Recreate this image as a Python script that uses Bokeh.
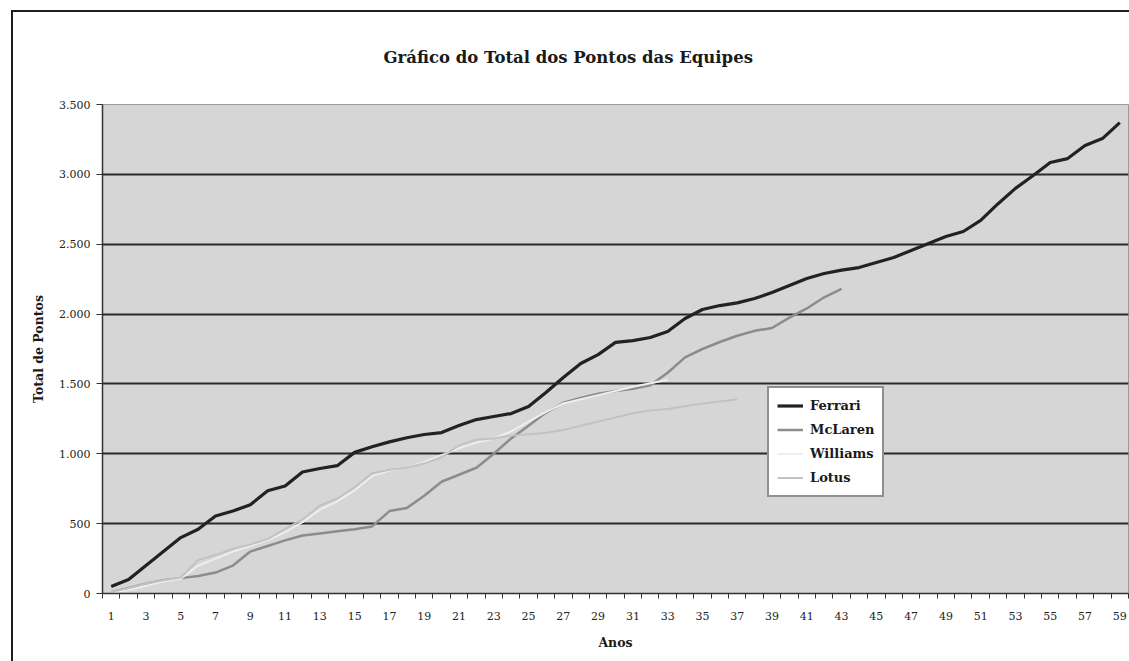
from bokeh.plotting import figure
from bokeh.models import Range1d, FixedTicker, Legend, LegendItem
from bokeh.embed import file_html
from bokeh.resources import INLINE

anos = list(range(1, 60))
ferrari = [50, 100, 200, 300, 400, 460, 555, 590, 635, 735,
           770, 870, 895, 915, 1010, 1050, 1085, 1115, 1138, 1152,
           1202, 1245, 1267, 1288, 1338, 1439, 1546, 1646, 1710, 1797,
           1810, 1832, 1875, 1968, 2033, 2061, 2080, 2111, 2154, 2204,
           2254, 2290, 2315, 2333, 2369, 2405, 2455, 2505, 2555, 2591,
           2670, 2790, 2900, 2990, 3085, 3113, 3206, 3256, 3370]
mclaren = [10, 40, 70, 95, 110, 125, 150, 200, 300, 340,
           380, 415, 430, 445, 460, 480, 590, 612, 700, 800,
           850, 900, 1000, 1110, 1200, 1295, 1365, 1400, 1430, 1450,
           1465, 1490, 1580, 1690, 1750, 1800, 1845, 1880, 1900, 1975,
           2040, 2120, 2180]
williams = [5, 25, 55, 85, 105, 200, 250, 300, 340, 380,
            440, 510, 600, 660, 740, 840, 880, 900, 940, 990,
            1040, 1080, 1110, 1160, 1230, 1300, 1360, 1390, 1420, 1450,
            1480, 1505, 1530]
lotus = [10, 40, 70, 95, 115, 240, 275, 320, 350, 390,
         460, 530, 630, 680, 760, 860, 885, 900, 930, 975,
         1060, 1100, 1110, 1130, 1140, 1150, 1170, 1200, 1230, 1260,
         1290, 1310, 1320, 1340, 1360, 1375, 1390]

series_names = ["Ferrari", "McLaren", "Williams", "Lotus"]
series_values = [ferrari, mclaren, williams, lotus]
series_colors = ["#222222", "#8c8c8c", "#eeeeee", "#c2c2c2"]
series_widths = [3.2, 2.5, 2, 2]

y_ticks = [0, 500, 1000, 1500, 2000, 2500, 3000, 3500]
y_tick_labels = ["0", "500", "1.000", "1.500", "2.000", "2.500", "3.000", "3.500"]
x_tick_labels = list(range(1, 60, 2))

titulo = "Gráfico do Total dos Pontos das Equipes"
rotulo_y = "Total de Pontos"
rotulo_x = "Anos"

SERIF = "DejaVu Serif"

p = figure(width=1129, height=661, output_backend="svg", toolbar_location=None,
           x_range=Range1d(0.5, 59.5), y_range=Range1d(0, 3500),
           min_border_left=102, min_border_top=104, min_border_bottom=68,
           min_border_right=1)

p.background_fill_color = "#d6d6d6"
p.border_fill_color = None
# outer chart border: left and top edges, drawn on the page element behind the canvas
p.styles = {
    "background": ("linear-gradient(#1e1e1e, #1e1e1e) 11px 10px / 2px 100% no-repeat, "
                   "linear-gradient(#1e1e1e, #1e1e1e) 11px 10px / 100% 2px no-repeat, white"),
}
p.outline_line_color = "#9a9a9a"
p.outline_line_width = 1

p.title.text = titulo
p.title.align = "left"
p.title.offset = 281
p.title.standoff = 75
p.title.text_font = SERIF
p.title.text_font_size = "16.5px"
p.title.text_font_style = "bold"
p.title.text_color = "#1a1a1a"

renderers = []
for name, vals, col, w in zip(series_names, series_values, series_colors, series_widths):
    r = p.line(anos[:len(vals)], vals, line_color=col, line_width=w, line_join="round")
    renderers.append(r)

# axes
p.yaxis.ticker = FixedTicker(ticks=y_ticks)
p.yaxis.major_label_overrides = {t: l for t, l in zip(y_ticks, y_tick_labels)}
p.yaxis.major_tick_out = 6
p.yaxis.major_tick_in = 0
p.yaxis.major_label_standoff = 6
p.yaxis.axis_label = rotulo_y
p.yaxis.axis_label_standoff = 10

p.xaxis.ticker = FixedTicker(ticks=x_tick_labels,
                             minor_ticks=[i + 0.5 for i in range(0, 60)])
p.xaxis.major_tick_out = 0
p.xaxis.major_tick_in = 0
p.xaxis.minor_tick_out = 5
p.xaxis.minor_tick_in = 0
p.xaxis.major_label_standoff = 13
p.xaxis.axis_label = rotulo_x
p.xaxis.axis_label_standoff = 12

for ax in (p.xaxis[0], p.yaxis[0]):
    ax.axis_line_color = "#333333"
    ax.axis_line_width = 1.5
    ax.major_label_text_font = SERIF
    ax.major_label_text_font_size = "11px"
    ax.major_label_text_color = "#222222"
    ax.axis_label_text_font = SERIF
    ax.axis_label_text_font_size = "12.5px"
    ax.axis_label_text_font_style = "bold"
    ax.axis_label_text_color = "#1a1a1a"
p.yaxis.major_tick_line_color = "#333333"
p.yaxis.minor_tick_line_color = None
p.xaxis.major_tick_line_color = None
p.xaxis.minor_tick_line_color = "#333333"

p.xgrid.visible = False
p.ygrid.ticker = FixedTicker(ticks=y_ticks[1:-1])
p.ygrid.grid_line_color = "#2a2a2a"
p.ygrid.grid_line_width = 2

legend = Legend(items=[LegendItem(label=n, renderers=[r]) for n, r in zip(series_names, renderers)],
                location=(665, 96))
legend.background_fill_color = "white"
legend.background_fill_alpha = 1
legend.border_line_color = "#222222"
legend.border_line_width = 2
legend.label_text_font = SERIF
legend.label_text_font_style = "bold"
legend.label_text_font_size = "13px"
legend.label_text_color = "#1a1a1a"
legend.glyph_width = 26
legend.glyph_height = 19
legend.label_height = 19
legend.spacing = 5
legend.padding = 8
legend.margin = 0
legend.label_standoff = 7
p.add_layout(legend)

open("out.html", "w").write(file_html(p, INLINE))
